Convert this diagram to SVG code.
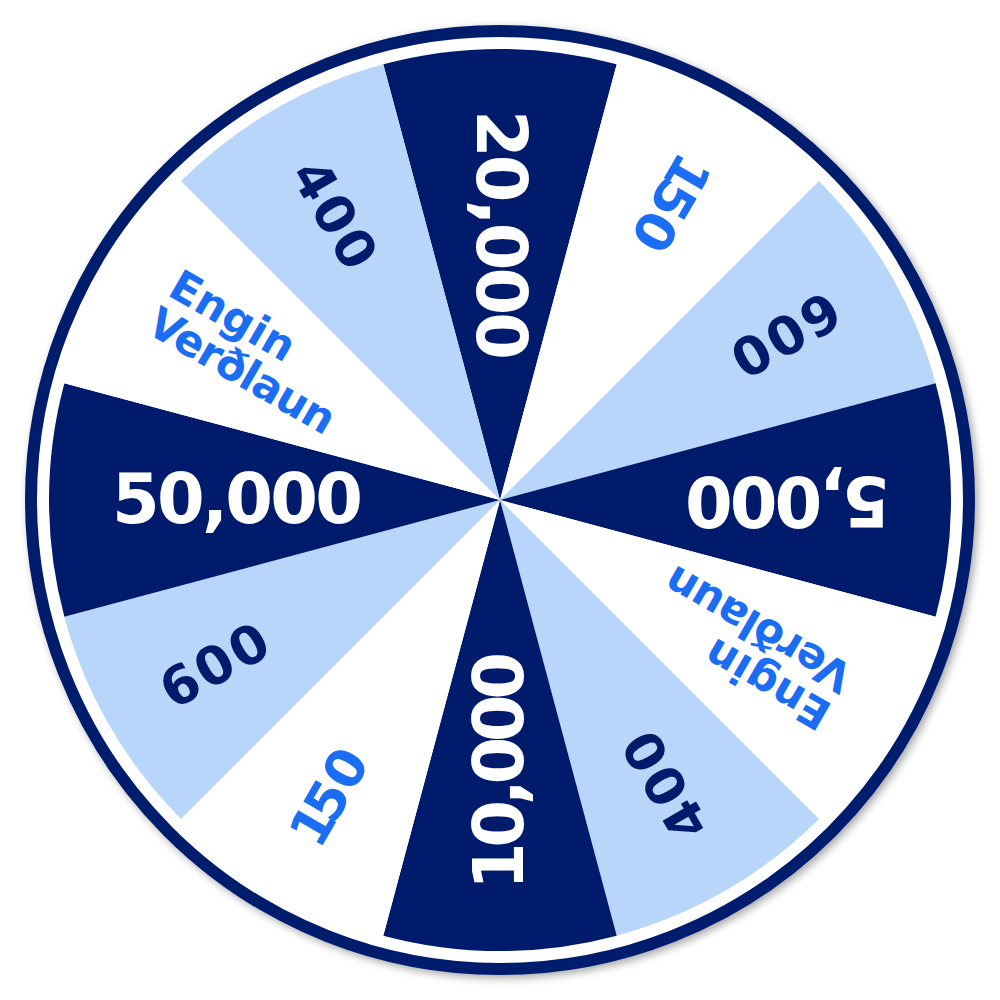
<svg xmlns="http://www.w3.org/2000/svg" width="1000" height="1000" viewBox="0 0 1000 1000">
  <defs>
    <filter id="shadow" x="-10%" y="-10%" width="120%" height="120%">
      <feDropShadow dx="3" dy="3" stdDeviation="4" flood-color="#000" flood-opacity="0.35"/>
    </filter>
    <style>
      .dark { fill: #011b6c; }
      .light { fill: #b8d5fa; }
      .white { fill: #ffffff; }
      .t { font-family: "DejaVu Sans", "Liberation Sans", sans-serif; font-weight: bold; }
      .big { font-size: 68.6px; fill: #ffffff; }
      .mid { font-size: 53px; fill: #011b6c; }
      .blue { fill: #1b6ef3; }
      .midb { font-size: 53px; }
      .small { font-size: 43px; }
    </style>
  </defs>
  <rect width="1000" height="1000" fill="#ffffff"/>
  <g id="rim">
    <circle cx="500" cy="500" r="469" fill="#ffffff" stroke="#011b6c" stroke-width="12" filter="url(#shadow)"/>
  </g>
  <g id="wedges">
    <g id="w1"><path class="dark" d="M500,500 L383.27,64.37 A451,451 0 0 1 616.73,64.37 Z"/>
      <g transform="rotate(90 500 500)"><text class="t big" x="110" y="523" textLength="250" lengthAdjust="spacing">20,000</text></g></g>
    <g id="w2"><path class="white" d="M500,500 L616.73,64.37 A451,451 0 0 1 818.91,181.09 Z"/>
      <g transform="rotate(120 500 500)"><text class="t midb blue" x="106" y="519" dx="0 -8 0">150</text></g></g>
    <g id="w3"><path class="light" d="M500,500 L818.91,181.09 A451,451 0 0 1 935.63,383.27 Z"/>
      <g transform="rotate(150 500 500)"><text class="t mid" x="112" y="519" textLength="116" lengthAdjust="spacing">600</text></g></g>
    <g id="w4"><path class="dark" d="M500,500 L935.63,383.27 A451,451 0 0 1 935.63,616.73 Z"/>
      <g transform="rotate(180 500 500)"><text class="t big" x="110" y="523" textLength="205" lengthAdjust="spacing">5,000</text></g></g>
    <g id="w5"><path class="white" d="M500,500 L935.63,616.73 A451,451 0 0 1 818.91,818.91 Z"/>
      <g transform="rotate(210 500 500)"><text class="t small blue" x="108" y="489" textLength="137" lengthAdjust="spacing">Engin</text><text class="t small blue" x="108" y="532" textLength="208" lengthAdjust="spacing">Verðlaun</text></g></g>
    <g id="w6"><path class="light" d="M500,500 L818.91,818.91 A451,451 0 0 1 616.73,935.63 Z"/>
      <g transform="rotate(240 500 500)"><text class="t mid" x="112" y="519" textLength="116" lengthAdjust="spacing">400</text></g></g>
    <g id="w7"><path class="dark" d="M500,500 L616.73,935.63 A451,451 0 0 1 383.27,935.63 Z"/>
      <g transform="rotate(270 500 500)"><text class="t big" x="110" y="523" textLength="238" lengthAdjust="spacing">10,000</text></g></g>
    <g id="w8"><path class="white" d="M500,500 L383.27,935.63 A451,451 0 0 1 181.09,818.91 Z"/>
      <g transform="rotate(300 500 500)"><text class="t midb blue" x="106" y="519" dx="0 -8 0">150</text></g></g>
    <g id="w9"><path class="light" d="M500,500 L181.09,818.91 A451,451 0 0 1 64.37,616.73 Z"/>
      <g transform="rotate(330 500 500)"><text class="t mid" x="112" y="519" textLength="116" lengthAdjust="spacing">600</text></g></g>
    <g id="w10"><path class="dark" d="M500,500 L64.37,616.73 A451,451 0 0 1 64.37,383.27 Z"/>
      <text class="t big" x="112" y="523" textLength="251" lengthAdjust="spacing">50,000</text></g>
    <g id="w11"><path class="white" d="M500,500 L64.37,383.27 A451,451 0 0 1 181.09,181.09 Z"/>
      <g transform="rotate(30 500 500)"><text class="t small blue" x="108" y="489" textLength="137" lengthAdjust="spacing">Engin</text><text class="t small blue" x="108" y="532" textLength="208" lengthAdjust="spacing">Verðlaun</text></g></g>
    <g id="w12"><path class="light" d="M500,500 L181.09,181.09 A451,451 0 0 1 383.27,64.37 Z"/>
      <g transform="rotate(60 500 500)"><text class="t mid" x="112" y="519" textLength="116" lengthAdjust="spacing">400</text></g></g>
  </g>
</svg>
